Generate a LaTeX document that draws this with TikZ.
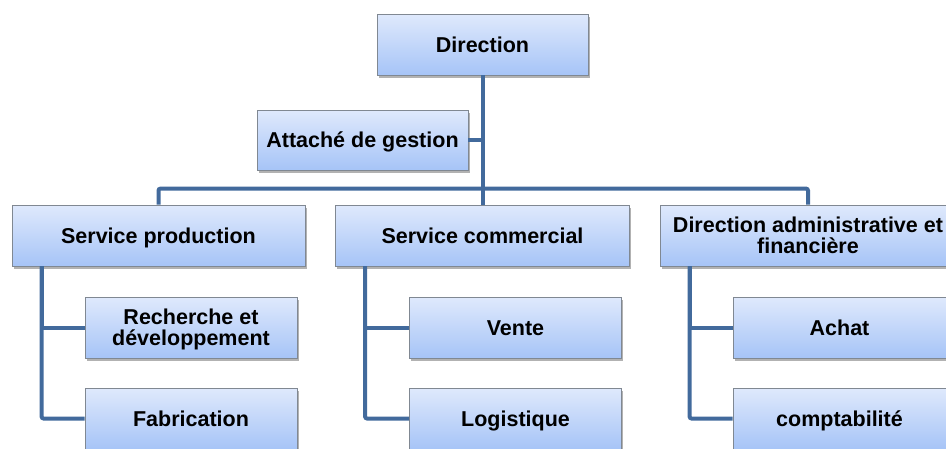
\documentclass[tikz,border=0pt]{standalone}
\usepackage{fontspec}
\setmainfont{Liberation Sans}
\usetikzlibrary{calc}
\usetikzlibrary{shadows}
\definecolor{boxtop}{RGB}{223,233,252}
\definecolor{boxbot}{RGB}{166,196,247}
\definecolor{boxline}{RGB}{128,136,146}
\definecolor{linkblue}{RGB}{66,106,156}
% one line of text, with the height of a capital and no depth
\newcommand{\lbl}[1]{\raisebox{0pt}[15.4pt][0pt]{#1}}
\tikzset{
	%	unit/.style={rectangle,draw,minimum size=2em},
	unit/.style={rectangle,draw=boxline,line width=0.8pt,top color=boxtop,bottom color=boxbot,
		inner sep=0pt,minimum height=61pt,align=center,
		font=\fontsize{21.5}{21}\selectfont\bfseries,
		drop shadow={shadow xshift=1.5pt,shadow yshift=-3pt,opacity=0.3,fill=black}},
	link/.style={draw=linkblue,line width=4pt}
}
\begin{document}
\begin{tikzpicture}[x=1pt,y=-1pt]
	\clip (0,0) rectangle (946,448);
	\node[unit,minimum width=211pt] (dir) at (482.5, 44.5) {\lbl{Direction}};
	\node[unit,minimum width=211pt,minimum height=60pt] (att) at (362.5, 140) {\lbl{Attaché de gestion}};
	
	\node[unit,minimum width=293pt] (prod) at (158.5, 235.5) {\lbl{Service production}};
	\node[unit,minimum width=294pt] (com) at (482.5, 235.5) {\lbl{Service commercial}};
	\node[unit,minimum width=296pt] (daf) at (808, 235.5) {\lbl{Direction administrative et}\\\lbl{financière}};
	
	\node[unit,minimum width=212pt] (rd) at (191, 327.5) {\lbl{Recherche et}\\\lbl{développement}};
	\node[unit,minimum width=212pt] (fab) at (191, 418.5) {\lbl{Fabrication}};
	\node[unit,minimum width=212pt] (vente) at (515.5, 327.5) {\lbl{Vente}};
	\node[unit,minimum width=212pt] (log) at (515.5, 418.5) {\lbl{Logistique}};
	\node[unit,minimum width=213pt] (achat) at (839.5, 327.5) {\lbl{Achat}};
	\node[unit,minimum width=213pt] (compta) at (839.5, 418.5) {\lbl{comptabilité}};
	
	\draw[link] (dir.south) -- (com.north);
	\draw[link] (att.east) -- (att.east -| dir.south);
	\draw[link,rounded corners=2pt] (prod.north) -- ++(0,-16) -| (daf.north);
	
	\draw[link,rounded corners=2pt] ([xshift=30pt]prod.south west) |- (fab.west);
	\draw[link] ([xshift=30pt]prod.south west) |- (rd.west);
	\draw[link,rounded corners=2pt] ([xshift=30pt]com.south west) |- (log.west);
	\draw[link] ([xshift=30pt]com.south west) |- (vente.west);
	\draw[link,rounded corners=2pt] ([xshift=30pt]daf.south west) |- (compta.west);
	\draw[link] ([xshift=30pt]daf.south west) |- (achat.west);
\end{tikzpicture}
\end{document}
